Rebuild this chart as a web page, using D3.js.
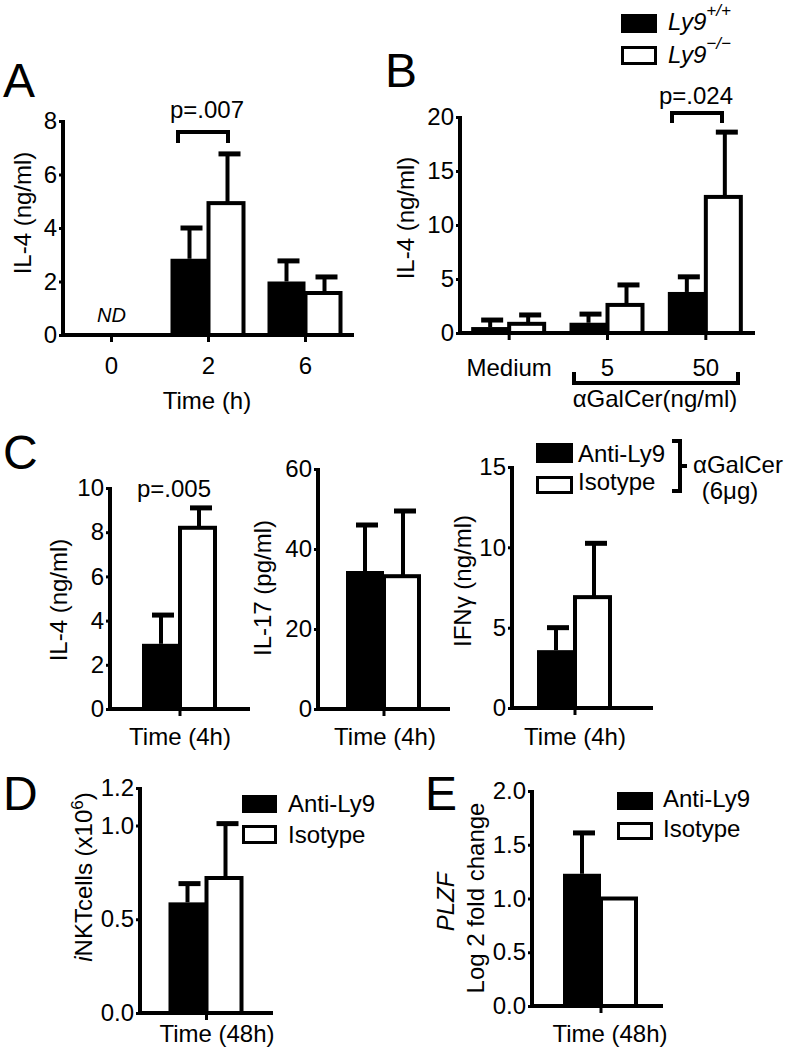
<!DOCTYPE html>
<html><head><meta charset="utf-8">
<script src="https://cdnjs.cloudflare.com/ajax/libs/d3/7.8.5/d3.min.js"></script>
<style>
body{margin:0;background:#fff}
svg{display:block}
text{font-family:"Liberation Sans",Arial,Helvetica,sans-serif;fill:#000}
</style>
</head><body>
<svg id="chart" width="789" height="1050"></svg>
<script>
// ---------------- DATA ----------------
// Panel A: IL-4 (ng/ml) vs time, Ly9+/+ (black) and Ly9-/- (white)
const aCategories = ["0", "2", "6"];
const aWT = [null, 2.85, 2.0];
const aWTErr = [null, 1.15, 0.77];
const aKO = [null, 4.93, 1.57];
const aKOErr = [null, 1.84, 0.6];
const aTicks = [0, 2, 4, 6, 8];

// Panel B: IL-4 (ng/ml) vs αGalCer dose
const bCategories = ["Medium", "5", "50"];
const bWT = [0.55, 0.95, 3.8];
const bWTErr = [0.65, 0.8, 1.4];
const bKO = [0.85, 2.6, 12.6];
const bKOErr = [0.82, 1.85, 6.0];
const bTicks = [0, 5, 10, 15, 20];

// Panel C: Anti-Ly9 (black) vs Isotype (white), Time (4h)
const cCategories = ["4h"];
const cIL4Anti = [2.95], cIL4AntiErr = [1.3];
const cIL4Iso = [8.2], cIL4IsoErr = [0.9];
const cIL4Ticks = [0, 2, 4, 6, 8, 10];
const cIL17Anti = [34.5], cIL17AntiErr = [11.5];
const cIL17Iso = [33.2], cIL17IsoErr = [16.3];
const cIL17Ticks = [0, 20, 40, 60];
const cIFNAnti = [3.6], cIFNAntiErr = [1.4];
const cIFNIso = [6.9], cIFNIsoErr = [3.35];
const cIFNTicks = [0, 5, 10, 15];

// Panel D: iNKT cells (x10^6), Time (48h)
const dCategories = ["48h"];
const dAnti = [0.59], dAntiErr = [0.10];
const dIso = [0.72], dIsoErr = [0.29];
const dTicks = [0.0, 0.5, 1.0, 1.2];

// Panel E: PLZF log2 fold change, Time (48h)
const eCategories = ["48h"];
const eAnti = [1.23], eAntiErr = [0.38];
const eIso = [1.0], eIsoErr = [0];
const eTicks = [0.0, 0.5, 1.0, 1.5, 2.0];

// ---------------- DRAWING ----------------
const svg = d3.select("#chart");
const BW = 38; // bar width

function drawPanel(p) {
  const g = svg.append("g");
  const y = d3.scaleLinear().domain([0, p.yMax]).range([p.y0, p.yTop]);
  const x = d3.scaleBand().domain(p.categories).range(p.xRange);

  p.categories.forEach((c, i) => {
    const cx = x(c) + x.bandwidth() / 2;
    const s1 = p.s1[i], s2 = p.s2[i];
    if (s1 != null) {
      if (p.e1[i] > 0) {
        const yt = y(s1 + p.e1[i]);
        g.append("line").attr("x1", cx - BW / 2).attr("x2", cx - BW / 2)
          .attr("y1", y(s1)).attr("y2", yt).attr("stroke", "#000").attr("stroke-width", 4);
        g.append("line").attr("x1", cx - BW / 2 - 9).attr("x2", cx - BW / 2 + 13)
          .attr("y1", yt).attr("y2", yt).attr("stroke", "#000").attr("stroke-width", 5);
      }
      g.append("rect").attr("x", cx - BW).attr("width", BW)
        .attr("y", y(s1)).attr("height", p.y0 - y(s1)).attr("fill", "#000");
    }
    if (s2 != null) {
      if (p.e2[i] > 0) {
        const yt = y(s2 + p.e2[i]);
        g.append("line").attr("x1", cx + BW / 2).attr("x2", cx + BW / 2)
          .attr("y1", y(s2)).attr("y2", yt).attr("stroke", "#000").attr("stroke-width", 4);
        g.append("line").attr("x1", cx + BW / 2 - 9).attr("x2", cx + BW / 2 + 13)
          .attr("y1", yt).attr("y2", yt).attr("stroke", "#000").attr("stroke-width", 5);
      }
      g.append("rect").attr("x", cx).attr("width", BW - 3)
        .attr("y", y(s2)).attr("height", p.y0 - y(s2))
        .attr("fill", "#fff").attr("stroke", "#000").attr("stroke-width", 4);
    }
  });

  const ya = d3.axisLeft(y).tickValues(p.ticks).tickSize(4).tickSizeOuter(0).tickPadding(2)
    .tickFormat(p.fmt || (d => d));
  const yg = g.append("g").attr("transform", `translate(${p.axisX},0)`).call(ya);
  yg.select(".domain").attr("stroke-width", 4).attr("d", `M0,${p.y0 + 2}V${p.yTop - 1}`);
  yg.selectAll(".tick line").attr("stroke-width", 3);
  yg.selectAll(".tick text").style("font-size", "24px").style("font-family", "Liberation Sans, Arial, sans-serif");

  g.append("line").attr("x1", p.axisX - 2).attr("x2", p.xEnd)
    .attr("y1", p.y0).attr("y2", p.y0).attr("stroke", "#000").attr("stroke-width", 4);
  const xa = d3.axisBottom(x).tickSize(7).tickSizeOuter(0).tickFormat("");
  const xg = g.append("g").attr("transform", `translate(0,${p.y0})`).call(xa);
  xg.select(".domain").remove();
  xg.selectAll(".tick line").attr("stroke-width", 3);

  if (p.tickLabels) {
    p.categories.forEach(c => {
      g.append("text").attr("x", x(c) + x.bandwidth() / 2).attr("y", p.tickLabelY)
        .attr("text-anchor", "middle").style("font-size", "24px").text(c);
    });
  }
  return { x, y, g };
}

function txt(x, y, s, size, opts = {}) {
  const t = svg.append("text").attr("x", x).attr("y", y).style("font-size", size + "px").text(s);
  if (opts.anchor) t.attr("text-anchor", opts.anchor);
  if (opts.italic) t.style("font-style", "italic");
  return t;
}
function vtxt(x, y, size) {
  return svg.append("text").attr("transform", `translate(${x},${y}) rotate(-90)`)
    .attr("text-anchor", "middle").style("font-size", size + "px");
}
function path(d, w) {
  svg.append("path").attr("d", d).attr("fill", "none").attr("stroke", "#000").attr("stroke-width", w || 4);
}

// ---- Panel A ----
const A = drawPanel({
  categories: aCategories, s1: aWT, e1: aWTErr, s2: aKO, e2: aKOErr,
  yMax: 8, y0: 335, yTop: 121, ticks: aTicks, axisX: 63, xEnd: 354, xRange: [63, 354],
  tickLabels: true, tickLabelY: 374
});
txt(A.x("0") + A.x.bandwidth() / 2, 322, "ND", 20, { anchor: "middle", italic: true });
path("M178,143V132H228V143", 4);
txt(207, 118, "p=.007", 24, { anchor: "middle" });
txt(207, 409, "Time (h)", 24, { anchor: "middle" });
vtxt(31, 213, 24).text("IL-4 (ng/ml)");
txt(3, 97, "A", 48);

// ---- Panel B ----
const B = drawPanel({
  categories: bCategories, s1: bWT, e1: bWTErr, s2: bKO, e2: bKOErr,
  yMax: 20, y0: 333, yTop: 117, ticks: bTicks, axisX: 460, xEnd: 755, xRange: [460, 755],
  tickLabels: true, tickLabelY: 376
});
path("M672,123V113H722V123", 4);
txt(696, 104, "p=.024", 24, { anchor: "middle" });
path("M574,372V383H738V372", 4);
txt(655, 407, "\u03B1GalCer(ng/ml)", 24, { anchor: "middle" });
vtxt(414, 218, 24).text("IL-4 (ng/ml)");
txt(385, 87, "B", 48);
svg.append("rect").attr("x", 621).attr("y", 14).attr("width", 36).attr("height", 19).attr("fill", "#000");
svg.append("rect").attr("x", 622.5).attr("y", 47.5).attr("width", 33).attr("height", 16)
  .attr("fill", "#fff").attr("stroke", "#000").attr("stroke-width", 3);
{
  const t1 = txt(668, 30, "", 24, { italic: true });
  t1.append("tspan").text("Ly9");
  t1.append("tspan").attr("dy", -14).style("font-size", "17px").text("+/+");
  const t2 = txt(668, 63, "", 24, { italic: true });
  t2.append("tspan").text("Ly9");
  t2.append("tspan").attr("dy", -14).style("font-size", "17px").text("\u2212/\u2212");
}

// ---- Panel C ----
const C1 = drawPanel({
  categories: cCategories, s1: cIL4Anti, e1: cIL4AntiErr, s2: cIL4Iso, e2: cIL4IsoErr,
  yMax: 10, y0: 709, yTop: 488, ticks: cIL4Ticks, axisX: 110, xEnd: 250, xRange: [110, 250]
});
txt(174, 497, "p=.005", 24, { anchor: "middle" });
txt(180, 745, "Time (4h)", 24, { anchor: "middle" });
vtxt(67, 600, 24).text("IL-4 (ng/ml)");
txt(3, 469, "C", 48);

const C2 = drawPanel({
  categories: cCategories, s1: cIL17Anti, e1: cIL17AntiErr, s2: cIL17Iso, e2: cIL17IsoErr,
  yMax: 60, y0: 709, yTop: 469, ticks: cIL17Ticks, axisX: 318, xEnd: 450, xRange: [318, 450]
});
txt(385, 745, "Time (4h)", 24, { anchor: "middle" });
vtxt(271, 588, 24).text("IL-17 (pg/ml)");

const C3 = drawPanel({
  categories: cCategories, s1: cIFNAnti, e1: cIFNAntiErr, s2: cIFNIso, e2: cIFNIsoErr,
  yMax: 15, y0: 708, yTop: 467, ticks: cIFNTicks, axisX: 512, xEnd: 653, xRange: [512, 638]
});
txt(575, 745, "Time (4h)", 24, { anchor: "middle" });
vtxt(471, 581, 24).text("IFN\u03B3 (ng/ml)");
svg.append("rect").attr("x", 536).attr("y", 443).attr("width", 37).attr("height", 20).attr("fill", "#000");
svg.append("rect").attr("x", 537.5).attr("y", 477.5).attr("width", 34).attr("height", 15)
  .attr("fill", "#fff").attr("stroke", "#000").attr("stroke-width", 3);
txt(578, 462, "Anti-Ly9", 24);
txt(578, 490, "Isotype", 24);
path("M672,441H680V491H672M680,466H687", 4);
txt(693, 473, "\u03B1GalCer", 24);
txt(730, 499, "(6\u03BCg)", 24, { anchor: "middle" });

// ---- Panel D ----
const D = drawPanel({
  categories: dCategories, s1: dAnti, e1: dAntiErr, s2: dIso, e2: dIsoErr,
  yMax: 1.2, y0: 1013, yTop: 788, ticks: dTicks, axisX: 140, xEnd: 273, xRange: [140, 273],
  fmt: d3.format(".1f")
});
txt(217, 1042, "Time (48h)", 24, { anchor: "middle" });
{
  const t = vtxt(92, 877, 24);
  t.append("tspan").style("font-style", "italic").text("i");
  t.append("tspan").text("NKTcells (x10");
  t.append("tspan").attr("dy", -9).style("font-size", "17px").text("6");
  t.append("tspan").attr("dy", 9).text(")");
}
svg.append("rect").attr("x", 242).attr("y", 795).attr("width", 35).attr("height", 18).attr("fill", "#000");
svg.append("rect").attr("x", 243.5).attr("y", 826.5).attr("width", 32).attr("height", 16)
  .attr("fill", "#fff").attr("stroke", "#000").attr("stroke-width", 3);
txt(288, 812, "Anti-Ly9", 24);
txt(288, 843, "Isotype", 24);
txt(3, 810, "D", 48);

// ---- Panel E ----
const E = drawPanel({
  categories: eCategories, s1: eAnti, e1: eAntiErr, s2: eIso, e2: eIsoErr,
  yMax: 2.0, y0: 1006, yTop: 791, ticks: eTicks, axisX: 532, xEnd: 663, xRange: [539, 663],
  fmt: d3.format(".1f")
});
txt(610, 1042, "Time (48h)", 24, { anchor: "middle" });
vtxt(454, 902, 24).style("font-style", "italic").text("PLZF");
vtxt(484, 898, 24).text("Log 2 fold change");
svg.append("rect").attr("x", 617).attr("y", 792).attr("width", 36).attr("height", 18).attr("fill", "#000");
svg.append("rect").attr("x", 618.5).attr("y", 823.5).attr("width", 33).attr("height", 15)
  .attr("fill", "#fff").attr("stroke", "#000").attr("stroke-width", 3);
txt(663, 807, "Anti-Ly9", 24);
txt(663, 837, "Isotype", 24);
txt(425, 810, "E", 48);
</script>
</body></html>
